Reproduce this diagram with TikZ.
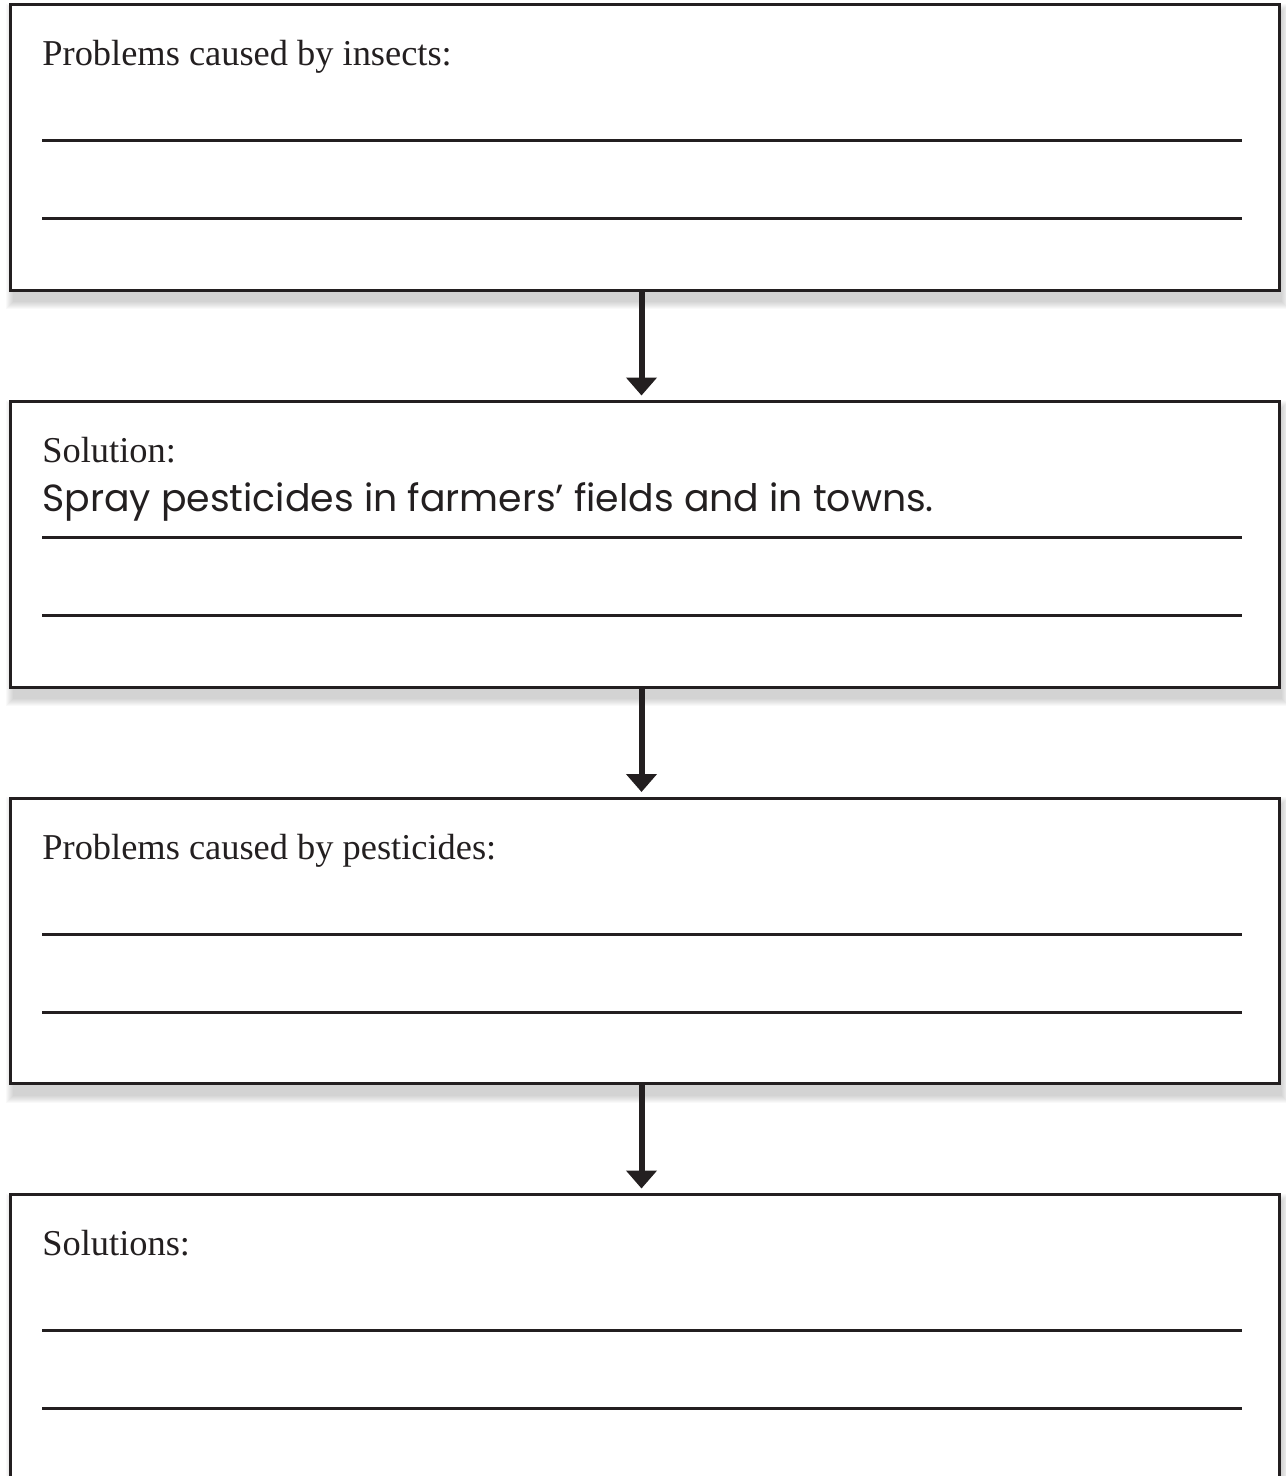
\documentclass[tikz,border=0pt]{standalone}
\usepackage{fontspec}
\setmainfont{Liberation Serif}
\newfontfamily\handfont{Poppins}
\usetikzlibrary{positioning,arrows.meta,backgrounds}
\definecolor{ink}{HTML}{231F20}
\tikzset{x=0.5pt,y=-0.5pt,
    panel/.style={draw=ink, line width=1.5pt, fill=white, outer sep=0pt,
        inner sep=0pt, minimum width=634.5pt, minimum height=142.75pt},
    prompt/.style={anchor=base west, inner sep=0pt, text=ink,
        font=\fontsize{18.2}{21}\selectfont},
    answer/.style={anchor=base west, inner sep=0pt, text=ink,
        font=\handfont\fontsize{18.9}{22}\selectfont},
    rule/.style={draw=ink, line width=1.5pt},
    flow/.style={draw=ink, line width=3pt, shorten >=3pt,
        -{Triangle[width=15pt,length=9pt]}},
    }

\begin{document}
\begin{tikzpicture}
\clip (0,0) rectangle (1285,1476);
\node[panel, anchor=north west] (insects) at (10,5) {};
\node[panel, below=55.5pt of insects] (solution) {};
\node[panel, below=55.5pt of solution] (pesticides) {};
\node[panel, below=55.5pt of pesticides] (solutions) {};
% headings
\node[prompt] (insects-q) at ([shift={(32,61)}]insects.north west) {Problems caused by insects:};
\node[prompt] (solution-q) at ([shift={(32,61)}]solution.north west) {Solution:};
\node[prompt] (pesticides-q) at ([shift={(32,61)}]pesticides.north west) {Problems caused by pesticides:};
\node[prompt] (solutions-q) at ([shift={(32,61)}]solutions.north west) {Solutions:};
\node[answer] (solution-a) at ([shift={(32,110)}]solution.north west) {Spray pesticides in farmers’ fields and in towns.};
% writing lines
\foreach \b in {insects,solution,pesticides,solutions}
  \foreach \y in {136,214}
    \draw[rule] ([shift={(32,\y)}]\b.north west) -- +(1200,0);
% arrows
\draw[flow] ([xshift=-1.5pt]insects.south) -- ([xshift=-1.5pt]solution.north);
\draw[flow] ([xshift=-1.5pt]solution.south) -- ([xshift=-1.5pt]pesticides.north);
\draw[flow] ([xshift=-1.5pt]pesticides.south) -- ([xshift=-1.5pt]solutions.north);
% soft shadows
\begin{scope}[on background layer]
\foreach \b in {insects,solution,pesticides,solutions}
  \foreach \i in {0,...,7}
    \fill[black, opacity=0.022]
      ([shift={(3-\i,6-\i)}]\b.north west) rectangle ([shift={(3+\i,12+\i)}]\b.south east);
\end{scope}
\end{tikzpicture}
\end{document}
